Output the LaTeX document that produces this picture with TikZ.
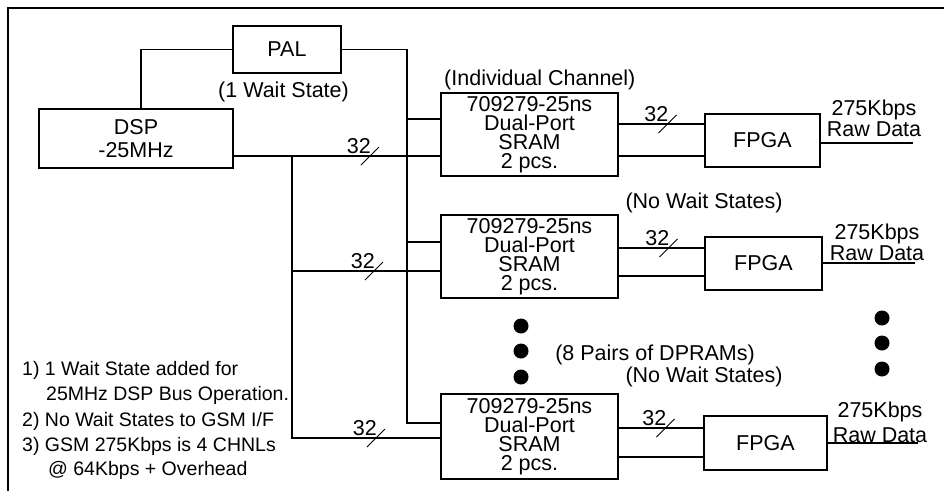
\documentclass[tikz,border=0pt]{standalone}
\usepackage{fontspec}
\setmainfont{Liberation Sans}
\newcommand{\mainfs}{\fontsize{21.5}{19}\selectfont}
\newcommand{\notefs}{\fontsize{19.5}{25}\selectfont}
\begin{document}
\begin{tikzpicture}[x=1pt,y=-1pt,
  box/.style={draw,line width=1.8pt,inner sep=0pt,align=center,font=\mainfs},
  wire/.style={line width=1.8pt},
  lbl/.style={inner sep=0pt,font=\mainfs},
  note/.style={inner sep=0pt,anchor=base west,font=\notefs},
  dotmark/.style={circle,fill=black,inner sep=0pt,minimum size=15pt},
  buswidth/.pic={\draw[line width=0.9pt] (-9,9) -- (9,-9);
                 \node[lbl,anchor=south east] (-lbl) at (1,-2.5) {32};}]
\useasboundingbox (0,0) rectangle (944,491);
% frame (top and left edges)
\draw[line width=2pt] (944,8) -- (8,8) -- (8,491);

% blocks
\node[box,minimum width=108pt,minimum height=47pt] (pal) at (287,49.5) {PAL};
\node[box,minimum width=194pt,minimum height=59pt,font=\fontsize{21.5}{23}\selectfont] (dsp) at (136,138.5) {DSP\\-25MHz};
\node[box,minimum width=177pt,minimum height=83pt] (sram1) at (529.5,134.5) {709279-25ns\\Dual-Port\\SRAM\\2 pcs.};
\node[box,minimum width=177pt,minimum height=83pt] (sram2) at (529.5,256.5) {709279-25ns\\Dual-Port\\SRAM\\2 pcs.};
\node[box,minimum width=177pt,minimum height=85pt] (sram3) at (529.5,436.5) {709279-25ns\\Dual-Port\\SRAM\\2 pcs.};
\node[box,minimum width=115pt,minimum height=53pt] (fpga1) at (762.5,140.5) {FPGA};
\node[box,minimum width=117pt,minimum height=53pt] (fpga2) at (763.5,263.5) {FPGA};
\node[box,minimum width=123pt,minimum height=54pt] (fpga3) at (765.5,443) {FPGA};

% labels
\node[lbl] (waitlbl) at (283.5,92) {(1 Wait State)};
\node[lbl,anchor=west] (indiv) at (444,80) {(Individual Channel)};
\node[lbl] (nows1) at (704,203) {(No Wait States)};
\node[lbl,anchor=east] (pairs) at (755,355) {(8 Pairs of DPRAMs)};
\node[lbl] (nows2) at (704,377) {(No Wait States)};
\node[lbl,align=center,font=\fontsize{21.5}{21}\selectfont] (raw1) at (874,118.5) {275Kbps\\Raw Data};
\node[lbl,align=center,font=\fontsize{21.5}{21}\selectfont] (raw2) at (877,242.5) {275Kbps\\Raw Data};
\node[lbl,align=center,font=\fontsize{21.5}{25}\selectfont] (raw3) at (880,422.5) {275Kbps\\Raw Data};

% dots
\node[dotmark] (dl1) at (521,326) {};
\node[dotmark] (dl2) at (521,351) {};
\node[dotmark] (dl3) at (521,377) {};
\node[dotmark] (dr1) at (882,318) {};
\node[dotmark] (dr2) at (882,343) {};
\node[dotmark] (dr3) at (882,369) {};

% notes
\node[note] (n1) at (22,375) {1) 1 Wait State added for};
\node[note] (n2) at (46,400) {25MHz DSP Bus Operation.};
\node[note] (n3) at (22,426) {2) No Wait States to GSM I/F};
\node[note] (n4) at (22,451) {3) GSM 275Kbps is 4 CHNLs};
\node[note] (n5) at (48,475) {@ 64Kbps + Overhead};

% connection points
\coordinate (c1) at (141,109);
\coordinate (j1) at (407,119);
\coordinate (j2) at (407,242);
\coordinate (j3) at (407,423);
\coordinate (k0) at (dsp.east |- 0,156);
\coordinate (kv) at (292,156);
\coordinate (k2) at (292,271);
\coordinate (k3) at (292,438);
\coordinate (out1) at (913,143);
\coordinate (out2) at (915,263);
\coordinate (out3) at (918,443);

% wires
\draw[wire] (pal.west) -| (c1);
\draw[wire] (pal.east) -| (j3) -- (j3 -| sram3.west);
\draw[wire] (j1) -- (j1 -| sram1.west);
\draw[wire] (j2) -- (j2 -| sram2.west);
\draw[wire] (k0) -- (k0 -| sram1.west);
\draw[wire] (kv) -- (k3) -- (k3 -| sram3.west);
\draw[wire] (k2) -- (k2 -| sram2.west);

\draw[wire] (sram1.east |- 0,124) -- (fpga1.west |- 0,124);
\draw[wire] (sram1.east |- 0,156) -- (fpga1.west |- 0,156);
\draw[wire] (sram2.east |- 0,248) -- (fpga2.west |- 0,248);
\draw[wire] (sram2.east |- 0,276) -- (fpga2.west |- 0,276);
\draw[wire] (sram3.east |- 0,428) -- (fpga3.west |- 0,428);
\draw[wire] (sram3.east |- 0,457) -- (fpga3.west |- 0,457);

\draw[wire] (out1 -| fpga1.east) -- (out1);
\draw[wire] (out2 -| fpga2.east) -- (out2);
\draw[wire] (out3 -| fpga3.east) -- (out3);

% bus width marks
\pic (bs1) at (370,156) {buswidth};
\pic (bs2) at (374,271) {buswidth};
\pic (bs3) at (376,438) {buswidth};
\pic (bs4) at (667.5,124) {buswidth};
\pic (bs5) at (668.5,248) {buswidth};
\pic (bs6) at (665.5,428) {buswidth};
\end{tikzpicture}
\end{document}
